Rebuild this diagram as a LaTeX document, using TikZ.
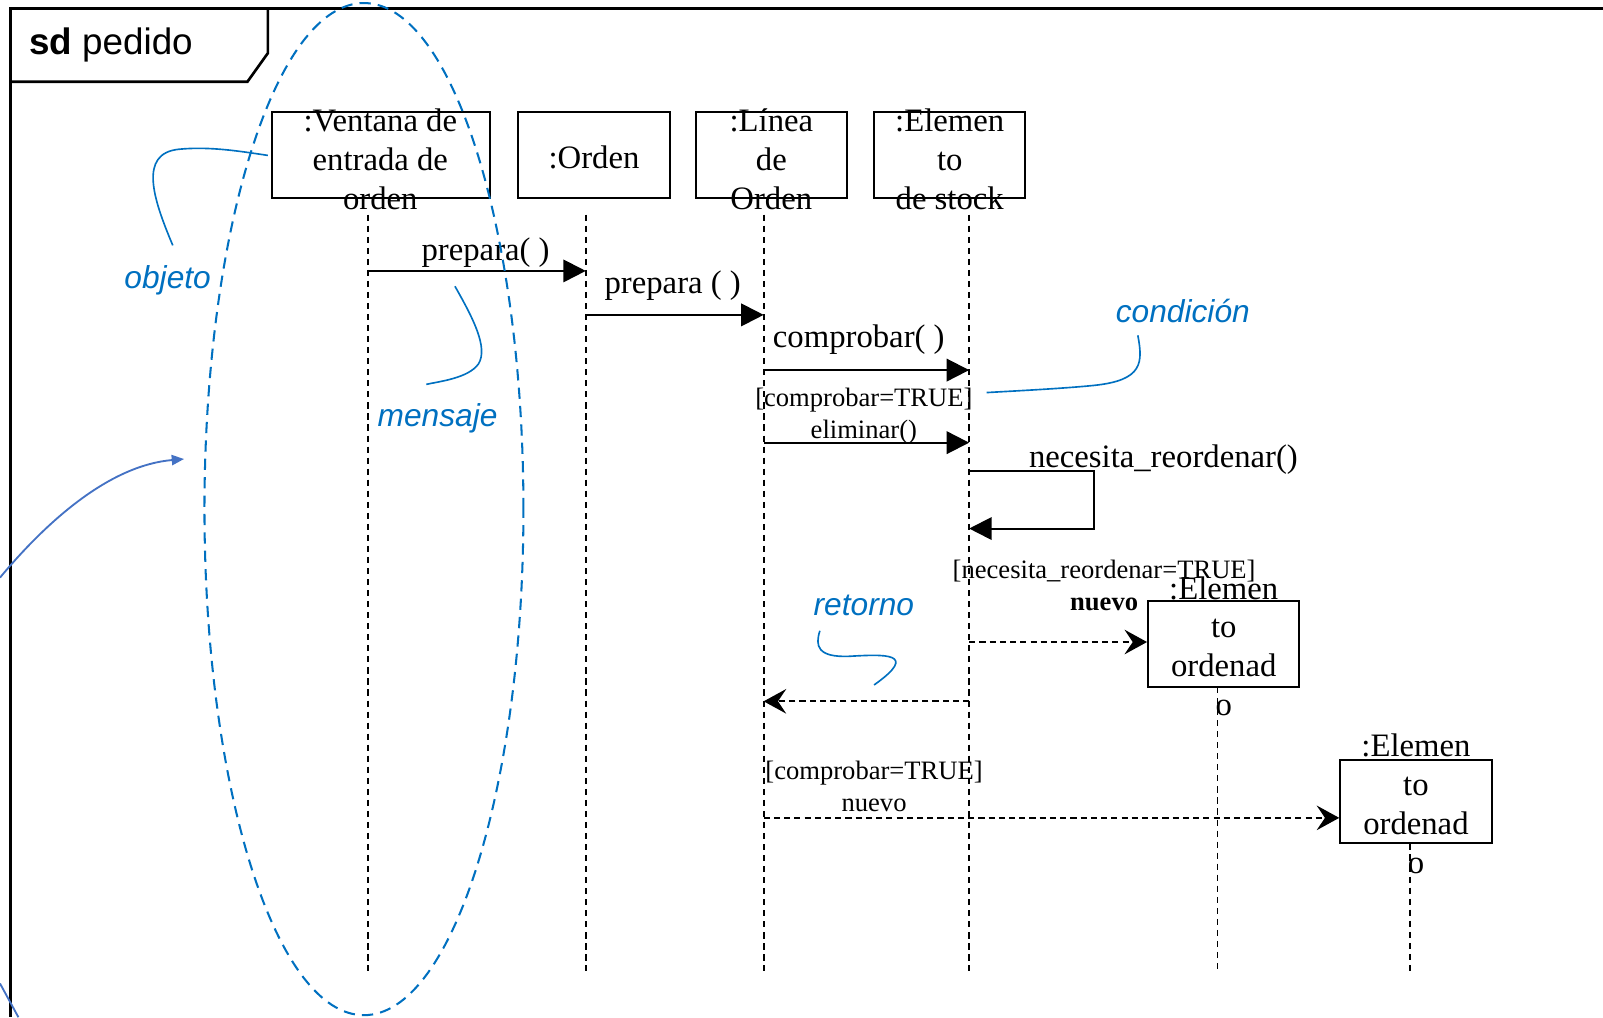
\documentclass[tikz,border=0pt]{standalone}
\usepackage{fontspec}
\setmainfont{Liberation Serif}
\newfontfamily\annfont{Liberation Sans}
\usetikzlibrary{arrows.meta}
\definecolor{annblue}{HTML}{0070C0}
\definecolor{arrblue}{HTML}{4472C4}
\begin{document}
\begin{tikzpicture}[x=0.5pt,y=-0.5pt,
  frameline/.style={line width=1.3pt},
  objbox/.style={draw,line width=1pt,minimum width=74pt,minimum height=42pt,inner sep=0pt},
  objtxt/.style={font=\fontsize{16}{19}\selectfont,align=center,inner sep=0pt},
  msgtxt/.style={font=\fontsize{16}{19}\selectfont,inner sep=0pt},
  smalltxt/.style={font=\fontsize{13}{15}\selectfont,inner sep=0pt},
  lifeline/.style={line width=0.8pt,dash pattern=on 3pt off 2.4pt},
  syncmsg/.style={line width=1pt,-{Triangle[length=11pt,width=11pt]}},
  createmsg/.style={line width=1pt,dash pattern=on 3pt off 2pt,-{Stealth[length=11pt,width=12pt,inset=4pt]}},
  annline/.style={annblue,line width=0.8pt},
  anntxt/.style={annblue,font=\annfont\itshape\fontsize{15.5}{18}\selectfont,inner sep=0pt}
]
\useasboundingbox (0,0) rectangle (1568,995);
% frame
\draw[frameline] (1568,8) -- (10,8) -- (10,995);
\draw[frameline] (10,80) -- (242,80) -- (262,52) -- (262,8);
\node[anchor=west,inner sep=0pt,font=\annfont\fontsize{18}{20}\selectfont] (title) at (28,44) {\textbf{sd} pedido};

% objects
\node[objbox,minimum width=106.5pt] (o1) at (372.5,152) {};
\node[objtxt] (t1) at (372,156) {:Ventana de\\entrada de\\orden};
\node[objbox] (o2) at (581,152) {};
\node[objtxt] (t2) at (581,154) {:Orden};
\node[objbox] (o3) at (754.5,152) {};
\node[objtxt] (t3) at (754.5,156) {:Línea\\de\\Orden};
\node[objbox] (o4) at (929,152) {};
\node[objtxt] (t4) at (929,156) {:Elemen\\to\\de stock};
\node[objbox] (o5) at (1197,630) {};
\node[objtxt] (t5) at (1197,632) {:Elemen\\to\\ordenad\\o};
\node[objbox,minimum height=41pt] (o6) at (1385,784) {};
\node[objtxt] (t6) at (1385,786) {:Elemen\\to\\ordenad\\o};

% lifelines
\coordinate (l1t) at (360,210);  \coordinate (l1b) at (360,950);
\coordinate (l2t) at (573,210);  \coordinate (l2b) at (573,950);
\coordinate (l3t) at (747,210);  \coordinate (l3b) at (747,950);
\coordinate (l4t) at (948,210);  \coordinate (l4b) at (948,950);
\coordinate (l5t) at (1191,672); \coordinate (l5b) at (1191,950);
\coordinate (l6t) at (1379,825); \coordinate (l6b) at (1379,950);
\foreach \i in {1,...,6} {\draw[lifeline] (l\i t) -- (l\i b);}

% messages
\coordinate (m1a) at (360,265); \coordinate (m1b) at (573,265);
\draw[syncmsg] (m1a) -- (m1b);
\node[msgtxt] (lm1) at (475,247) {prepara( )};

\coordinate (m2a) at (573,308); \coordinate (m2b) at (747,308);
\draw[syncmsg] (m2a) -- (m2b);
\node[msgtxt] (lm2) at (658,279) {prepara ( )};

\coordinate (m3a) at (747,362); \coordinate (m3b) at (948,362);
\draw[syncmsg] (m3a) -- (m3b);
\node[msgtxt] (lm3) at (840,332) {comprobar( )};

\coordinate (m4a) at (747,433); \coordinate (m4b) at (948,433);
\draw[syncmsg] (m4a) -- (m4b);
\node[smalltxt] (lm4a) at (845,391) {[comprobar=TRUE]};
\node[smalltxt] (lm4b) at (845,423) {eliminar()};

\coordinate (s1) at (948,461); \coordinate (s2) at (1070,461);
\coordinate (s3) at (1070,517); \coordinate (s4) at (948,517);
\draw[syncmsg] (s1) -- (s2) -- (s3) -- (s4);
\node[msgtxt] (ls) at (1138,450) {necesita\_reordenar()};

\coordinate (m5a) at (948,628);
\draw[createmsg] (m5a) -- (m5a -| o5.west);
\node[smalltxt] (lm5a) at (1080,559) {[necesita\_reordenar=TRUE]};
\node[smalltxt,font=\fontsize{13}{15}\selectfont\bfseries] (lm5b) at (1080,591) {nuevo};

\coordinate (m6a) at (948,686); \coordinate (m6b) at (747,686);
\draw[createmsg] (m6a) -- (m6b);

\coordinate (m7a) at (747,800);
\draw[createmsg] (m7a) -- (m7a -| o6.west);
\node[smalltxt] (lm7a) at (855,756) {[comprobar=TRUE]};
\node[smalltxt] (lm7b) at (855,788) {nuevo};

% annotations
\draw[annblue,line width=1pt,dash pattern=on 5.5pt off 3.5pt] (356,498) ellipse [x radius=78pt,y radius=247.5pt];

\node[anntxt] (aobj) at (164,274) {objeto};
\draw[annline] (169,240) .. controls (150,195) and (135,150) .. (175,146) .. controls (205,143) and (235,148) .. (262,152);

\node[anntxt] (amen) at (428,409) {mensaje};
\draw[annline] (445,280) .. controls (462,310) and (478,340) .. (468,356) .. controls (458,370) and (430,373) .. (417,376);

\node[anntxt] (acon) at (1157,304) {condición};
\draw[annline] (1113,328) .. controls (1118,355) and (1118,372) .. (1070,377) .. controls (1040,380) and (1000,382) .. (965,384);

\node[anntxt] (aret) at (845,592) {retorno};
\draw[annline] (802,617) .. controls (797,632) and (800,643) .. (830,642) .. controls (865,640) and (900,638) .. (855,670);

\draw[arrblue,line width=0.9pt,-{Triangle[length=6pt,width=5pt]}] (0,565) .. controls (50,505) and (110,455) .. (180,449);
\draw[arrblue,line width=0.9pt] (0,962) -- (18,995);
\end{tikzpicture}
\end{document}
